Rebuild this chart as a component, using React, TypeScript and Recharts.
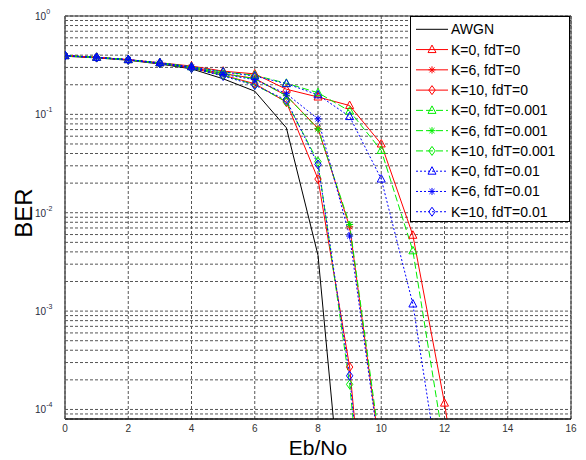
import {
    LineChart,
    Line,
    XAxis,
    YAxis,
    CartesianGrid,
    ReferenceArea,
} from "recharts";

// Eb/No (dB) 값
const ebno = [0, 1, 2, 3, 4, 5, 6, 7, 8, 9, 10, 11, 12, 13];

// BER 값
const awgn = [0.39, 0.375, 0.355, 0.325, 0.29, 0.23, 0.172, 0.073, 0.0037, 1.4e-6];
const k0fdT0 = [0.395, 0.38, 0.36, 0.335, 0.31, 0.275, 0.258, 0.18, 0.15, 0.123, 0.05, 0.0059, 1.16e-4, 1e-6];
const k6fdT0 = [0.395, 0.38, 0.36, 0.33, 0.3, 0.26, 0.232, 0.155, 0.072, 0.0072, 3e-5];
const k10fdT0 = [0.395, 0.378, 0.358, 0.33, 0.295, 0.25, 0.205, 0.133, 0.022, 2.7e-4, 1e-7];
const k0fdT001 = [0.395, 0.38, 0.36, 0.335, 0.305, 0.27, 0.25, 0.207, 0.166, 0.108, 0.043, 0.0041, 4e-5];
const k6fdT001 = [0.395, 0.38, 0.36, 0.33, 0.3, 0.26, 0.23, 0.155, 0.071, 0.0076, 3.5e-5];
const k10fdT001 = [0.395, 0.378, 0.358, 0.33, 0.295, 0.25, 0.2, 0.135, 0.033, 1.8e-4, 1e-7];
const k0fdT01 = [0.395, 0.38, 0.36, 0.335, 0.305, 0.27, 0.245, 0.205, 0.158, 0.095, 0.022, 0.00118, 1e-5];
const k6fdT01 = [0.395, 0.38, 0.36, 0.33, 0.3, 0.255, 0.225, 0.162, 0.09, 0.0058, 2.8e-5];
const k10fdT01 = [0.395, 0.378, 0.358, 0.33, 0.295, 0.245, 0.198, 0.14, 0.031, 2.2e-4, 1e-7];

// 눈금
const xTicks = [0, 2, 4, 6, 8, 10, 12, 14, 16];
const yDecades = [1e-5, 1e-4, 1e-3, 1e-2, 1e-1, 1];
const yMin = 8e-5;

const yTicks: number[] = [];
yDecades.forEach((d) => {
    for (let k = 1; k < 10; k++) {
        const v = k * d;
        if (v >= yMin * 0.999 && v <= 1.0001) yTicks.push(v);
    }
});

type Shape = "none" | "triangle" | "star" | "diamond";

const series = [
    { name: "AWGN", values: awgn, color: "#000000", dash: undefined, shape: "none" as Shape },
    { name: "K=0, fdT=0", values: k0fdT0, color: "#ff0000", dash: undefined, shape: "triangle" as Shape },
    { name: "K=6, fdT=0", values: k6fdT0, color: "#ff0000", dash: undefined, shape: "star" as Shape },
    { name: "K=10, fdT=0", values: k10fdT0, color: "#ff0000", dash: undefined, shape: "diamond" as Shape },
    { name: "K=0, fdT=0.001", values: k0fdT001, color: "#00ee00", dash: "7 3", shape: "triangle" as Shape },
    { name: "K=6, fdT=0.001", values: k6fdT001, color: "#00ee00", dash: "7 3", shape: "star" as Shape },
    { name: "K=10, fdT=0.001", values: k10fdT001, color: "#00ee00", dash: "7 3", shape: "diamond" as Shape },
    { name: "K=0, fdT=0.01", values: k0fdT01, color: "#0000ff", dash: "2 2", shape: "triangle" as Shape },
    { name: "K=6, fdT=0.01", values: k6fdT01, color: "#0000ff", dash: "2 2", shape: "star" as Shape },
    { name: "K=10, fdT=0.01", values: k10fdT01, color: "#0000ff", dash: "2 2", shape: "diamond" as Shape },
];

function Marker({ cx, cy, shape, color }: { cx: number; cy: number; shape: Shape; color: string }) {
    if (shape === "none" || cx == null || cy == null) return <g />;
    if (shape === "triangle") {
        return (
            <polygon
                points={`${cx},${cy - 4.5} ${cx - 4},${cy + 3} ${cx + 4},${cy + 3}`}
                fill="none"
                stroke={color}
                strokeWidth={1}
            />
        );
    }
    if (shape === "diamond") {
        return (
            <polygon
                points={`${cx},${cy - 4.5} ${cx + 3.2},${cy} ${cx},${cy + 4.5} ${cx - 3.2},${cy}`}
                fill="none"
                stroke={color}
                strokeWidth={1}
            />
        );
    }
    const r = 3.5;
    const d = r * 0.72;
    return (
        <g stroke={color} strokeWidth={1}>
            <line x1={cx - r} y1={cy} x2={cx + r} y2={cy} />
            <line x1={cx} y1={cy - r} x2={cx} y2={cy + r} />
            <line x1={cx - d} y1={cy - d} x2={cx + d} y2={cy + d} />
            <line x1={cx - d} y1={cy + d} x2={cx + d} y2={cy - d} />
        </g>
    );
}

const YTick = ({ x, y, payload }: any) => {
    const lg = Math.log10(payload.value);
    const e = Math.round(lg);
    if (Math.abs(lg - e) > 1e-6) return <g />;
    return (
        <text x={x - 22} y={y + 4} fontSize={10} fill="#2a2a40" fontFamily="Liberation Sans, Arial, sans-serif">
            10
            <tspan dy={-6} fontSize={7}>
                {e}
            </tspan>
        </text>
    );
};

const XTick = ({ x, y, payload }: any) => (
    <text x={x} y={y + 5} textAnchor="middle" fontSize={10} fill="#333" fontFamily="Liberation Sans, Arial, sans-serif">
        {payload.value}
    </text>
);

function LegendBox() {
    const rowH = 20.27;
    return (
        <svg
            width={161}
            height={207}
            style={{ position: "absolute", left: 410, top: 16, overflow: "visible" }}
        >
            <rect x={0.5} y={0.5} width={159} height={205} fill="#fff" stroke="#000" strokeWidth={1} />
            {series.map((s, i) => {
                const cy = 13.3 + i * rowH;
                return (
                    <g key={s.name}>
                        <line x1={6} y1={cy} x2={38} y2={cy} stroke={s.color} strokeDasharray={s.dash} strokeWidth={1} />
                        <Marker cx={22} cy={cy} shape={s.shape} color={s.color} />
                        <text x={41} y={cy + 5} fontSize={14} fill="#000" fontFamily="Liberation Sans, Arial, sans-serif">
                            {s.name}
                        </text>
                    </g>
                );
            })}
        </svg>
    );
}

export default function App() {
    return (
        <div style={{ position: "absolute", left: 0, top: 0, width: 586, height: 460, background: "#fff" }}>
            <LineChart width={586} height={460} margin={{ top: 16, right: 15, bottom: 0, left: 0 }}>
                <CartesianGrid stroke="#555" strokeDasharray="3 2" strokeWidth={1} />
                <XAxis
                    dataKey="x"
                    type="number"
                    domain={[0, 16]}
                    ticks={xTicks}
                    tick={<XTick />}
                    tickLine={false}
                    axisLine={{ stroke: "#000" }}
                    height={41}
                    allowDataOverflow
                />
                <YAxis
                    type="number"
                    scale="log"
                    domain={[yMin, 1]}
                    ticks={yTicks}
                    tick={<YTick />}
                    tickLine={false}
                    axisLine={{ stroke: "#666" }}
                    width={65}
                    interval={0}
                    allowDataOverflow
                />
                <ReferenceArea x1={0} x2={16} y1={yMin} y2={1} fill="none" stroke="#333" strokeWidth={1} />
                {series.map((s) => (
                    <Line
                        key={s.name}
                        data={s.values.map((v, i) => ({ x: ebno[i], y: v }))}
                        dataKey="y"
                        stroke={s.color}
                        strokeWidth={1}
                        strokeDasharray={s.dash}
                        isAnimationActive={false}
                        dot={(p: any) => (
                            <Marker key={`${s.name}-${p.index}`} cx={p.cx} cy={p.cy} shape={s.shape} color={s.color} />
                        )}
                        activeDot={false}
                    />
                ))}
            </LineChart>
            <LegendBox />
            <svg
                width={586}
                height={460}
                style={{ position: "absolute", left: 0, top: 0, pointerEvents: "none" }}
            >
                <text x={318} y={455} textAnchor="middle" fontSize={21} fill="#000" fontFamily="Liberation Sans, Arial, sans-serif">
                    Eb/No
                </text>
                <text
                    x={32}
                    y={213}
                    textAnchor="middle"
                    fontSize={24}
                    fill="#000"
                    fontFamily="Liberation Sans, Arial, sans-serif"
                    transform="rotate(-90 32 213)"
                >
                    BER
                </text>
            </svg>
        </div>
    );
}
